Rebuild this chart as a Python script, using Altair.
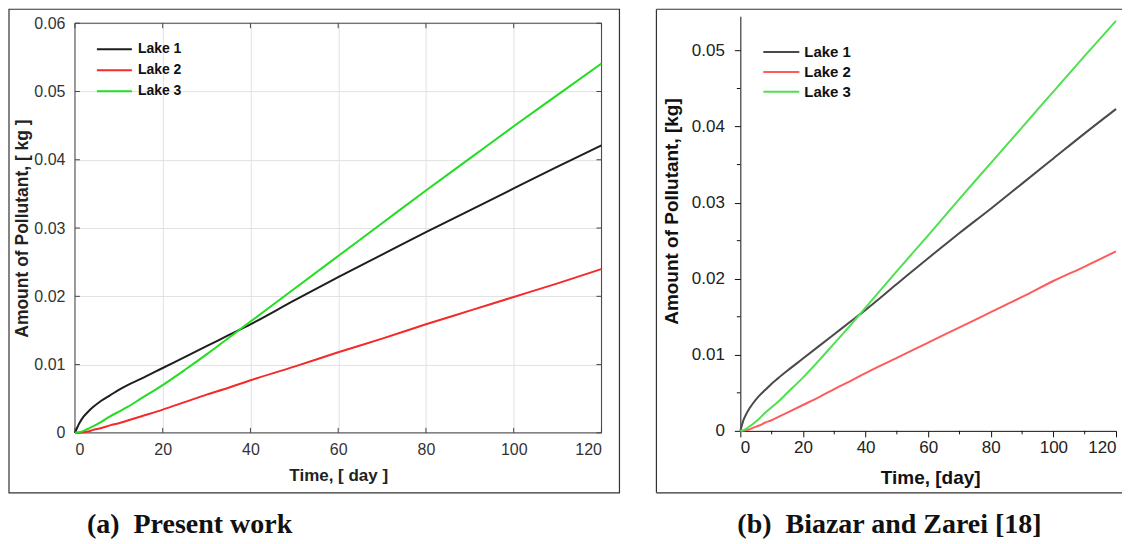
import altair as alt
import pandas as pd

# ---------------- data ----------------
days = [0, 1, 2, 3, 4, 6, 8, 10, 12, 15, 20, 25, 30, 35, 40, 50, 60, 70, 80, 90, 100, 110, 120]
lakes = ["Lake 1", "Lake 2", "Lake 3"]

# (a) Present work
a_lake1 = [0, 0.0014, 0.0024, 0.0031, 0.0037, 0.0047, 0.0055, 0.0063, 0.0070, 0.0079, 0.0095,
           0.0111, 0.0127, 0.0143, 0.0159, 0.0194, 0.0228, 0.0261, 0.0294, 0.0326, 0.0358, 0.0390, 0.0421]
a_lake2 = [0, 0.00003, 0.0001, 0.0002, 0.0004, 0.0007, 0.0011, 0.0014, 0.0018, 0.0024, 0.0034,
           0.0045, 0.0056, 0.0066, 0.0077, 0.0097, 0.0118, 0.0138, 0.0159, 0.0179, 0.0199, 0.0219, 0.0240]
a_lake3 = [0, 0.0001, 0.0003, 0.0006, 0.0009, 0.0016, 0.0024, 0.0031, 0.0038, 0.0050, 0.0070,
           0.0092, 0.0115, 0.0139, 0.0163, 0.0211, 0.0259, 0.0307, 0.0355, 0.0402, 0.0449, 0.0495, 0.0541]

# (b) Biazar and Zarei [18]
b_lake1 = [0, 0.0014, 0.0023, 0.0030, 0.0036, 0.0046, 0.0054, 0.0062, 0.0069, 0.0079, 0.0095,
           0.0111, 0.0127, 0.0143, 0.0159, 0.0193, 0.0227, 0.0260, 0.0292, 0.0325, 0.0358, 0.0391, 0.0423]
b_lake2 = [0, 0.00003, 0.0001, 0.0002, 0.0004, 0.0007, 0.0011, 0.0014, 0.0018, 0.0024, 0.0034,
           0.0044, 0.0055, 0.0065, 0.0076, 0.0096, 0.0116, 0.0136, 0.0156, 0.0176, 0.0197, 0.0216, 0.0236]
b_lake3 = [0, 0.0001, 0.0003, 0.0006, 0.0009, 0.0016, 0.0024, 0.0031, 0.0038, 0.0050, 0.0070,
           0.0092, 0.0115, 0.0138, 0.0162, 0.0210, 0.0257, 0.0305, 0.0352, 0.0399, 0.0446, 0.0493, 0.0539]

x_ticks = [0, 20, 40, 60, 80, 100, 120]
x_minor = [10, 30, 50, 70, 90, 110]
a_y_ticks = [0, 0.01, 0.02, 0.03, 0.04, 0.05, 0.06]
b_y_ticks = [0, 0.01, 0.02, 0.03, 0.04, 0.05]
b_y_minor = [0.005, 0.015, 0.025, 0.035, 0.045]
captions = ["(a)\u00a0\u00a0Present work", "(b)\u00a0\u00a0Biazar and Zarei [18]"]

a_colors = ["#1e1e1e", "#f42a2a", "#22dd22"]
b_colors = ["#4a4a4a", "#ff5b5b", "#4fe04f"]

SANS = "Liberation Sans"
SERIF = "Liberation Serif"


def long_frame(l1, l2, l3):
    rows = []
    for name, vals in zip(lakes, [l1, l2, l3]):
        for d, v in zip(days, vals):
            rows.append({"day": d, "amount": v, "lake": name})
    return pd.DataFrame(rows)


one = pd.DataFrame({"k": [0]})

# ---------------- panel (a) ----------------
WA, HA = 527, 410
xs_a = alt.Scale(domain=[0, 120], nice=False)
ys_a = alt.Scale(domain=[0, 0.06], nice=False)

lines_a = alt.Chart(long_frame(a_lake1, a_lake2, a_lake3)).mark_line(
    strokeWidth=2, interpolate="monotone"
).encode(
    x=alt.X("day:Q", scale=xs_a, axis=alt.Axis(
        values=x_ticks, grid=True, gridColor="#e2e2e2", ticks=False, domain=False,
        labelFont=SANS, labelFontSize=16, labelColor="#333", labelPadding=9,
        title="Time, [ day ]", titleFont=SANS, titleFontSize=17, titleFontWeight="bold",
        titleColor="#222", titleBaseline="middle", titleX=WA / 2, titleY=43)),
    y=alt.Y("amount:Q", scale=ys_a, axis=alt.Axis(
        values=a_y_ticks, format="~g", grid=True, gridColor="#e2e2e2", ticks=False, domain=False,
        labelFont=SANS, labelFontSize=16, labelColor="#333", labelPadding=10,
        title="Amount of Pollutant, [ kg ]", titleFont=SANS, titleFontSize=17.5, titleFontWeight="bold",
        titleColor="#222", titleBaseline="middle", titleX=-52, titleY=HA / 2)),
    color=alt.Color("lake:N", scale=alt.Scale(domain=lakes, range=a_colors), legend=alt.Legend(
        title=None, orient="none", legendX=21, legendY=16.5, symbolType="stroke", symbolSize=1225,
        symbolStrokeWidth=2, clipHeight=19, rowPadding=2, labelFont=SANS, labelFontSize=14,
        labelFontWeight="bold", labelColor="#111", labelOffset=5, padding=0)),
)

xt_a = alt.Chart(pd.DataFrame({"day": x_ticks}))
yt_a = alt.Chart(pd.DataFrame({"amount": a_y_ticks}))
ticks_a = [
    xt_a.mark_rule(color="#444").encode(x="day:Q", y=alt.value(HA), y2=alt.value(HA - 5)),
    xt_a.mark_rule(color="#444").encode(x="day:Q", y=alt.value(0), y2=alt.value(5)),
    yt_a.mark_rule(color="#444").encode(y="amount:Q", x=alt.value(0), x2=alt.value(5)),
    yt_a.mark_rule(color="#444").encode(y="amount:Q", x=alt.value(WA - 5), x2=alt.value(WA)),
]
frame_a = alt.Chart(one).mark_rect(filled=False, stroke="#444", strokeWidth=1).encode(
    x=alt.value(0), x2=alt.value(WA), y=alt.value(0), y2=alt.value(HA))
box_a = alt.Chart(one).mark_rect(filled=False, stroke="#333", strokeWidth=1.2).encode(
    x=alt.value(-66), x2=alt.value(545), y=alt.value(-14), y2=alt.value(470))
cap_a = alt.Chart(pd.DataFrame({"cap": [captions[0]]})).mark_text(
    align="left", baseline="middle", font=SERIF, fontSize=28, fontWeight="bold", color="#111"
).encode(x=alt.value(12), y=alt.value(502), text="cap:N")

panel_a = alt.layer(frame_a, *ticks_a, lines_a, box_a, cap_a).properties(width=WA, height=HA)

# ---------------- panel (b) ----------------
# the plot origin is shared with panel (a); its axis starts 7px higher
WB, HB = 376, 408
xs_b = alt.Scale(domain=[0, 120], nice=False)
ys_b = alt.Scale(domain=[0, 0.0545], nice=False, range=[HB, -7])

lines_b = alt.Chart(long_frame(b_lake1, b_lake2, b_lake3)).mark_line(
    strokeWidth=2, interpolate="monotone"
).encode(
    x=alt.X("day:Q", scale=xs_b, axis=alt.Axis(
        values=x_ticks, grid=False, ticks=True, tickSize=6, tickColor="#111", domain=True,
        domainColor="#111", labelFont=SANS, labelFontSize=17, labelColor="#222", labelPadding=3,
        title="Time, [day]", titleFont=SANS, titleFontSize=19, titleFontWeight="bold",
        titleColor="#111", titleBaseline="middle", titleX=190, titleY=47)),
    y=alt.Y("amount:Q", scale=ys_b, axis=alt.Axis(
        values=b_y_ticks, format="~g", grid=False, ticks=True, tickSize=6, tickColor="#111",
        domain=True, domainColor="#111", labelFont=SANS, labelFontSize=17, labelColor="#222",
        labelPadding=10, title="Amount of Pollutant, [kg]", titleFont=SANS, titleFontSize=19,
        titleFontWeight="bold", titleColor="#111", titleBaseline="middle", titleX=-69, titleY=188)),
    color=alt.Color("lake:N", scale=alt.Scale(domain=lakes, range=b_colors), legend=alt.Legend(
        title=None, orient="none", legendX=22, legendY=19.7, symbolType="stroke", symbolSize=1296,
        symbolStrokeWidth=2, clipHeight=18, rowPadding=2, labelFont=SANS, labelFontSize=15,
        labelFontWeight="bold", labelColor="#111", labelOffset=4, padding=0)),
)

mx_b = alt.Chart(pd.DataFrame({"day": x_minor}))
my_b = alt.Chart(pd.DataFrame({"amount": b_y_minor}))
minor_b = [
    mx_b.mark_rule(color="#111").encode(x="day:Q", y=alt.value(HB), y2=alt.value(HB + 3.5)),
    my_b.mark_rule(color="#111").encode(y="amount:Q", x=alt.value(0), x2=alt.value(-3.5)),
]
box_b = [
    alt.Chart(one).mark_rule(color="#333", strokeWidth=1.2).encode(
        x=alt.value(-84), x2=alt.value(382), y=alt.value(-14)),
    alt.Chart(one).mark_rule(color="#333", strokeWidth=1.2).encode(
        x=alt.value(-84), y=alt.value(-14), y2=alt.value(470)),
    alt.Chart(one).mark_rule(color="#333", strokeWidth=1.2).encode(
        x=alt.value(-84), x2=alt.value(382), y=alt.value(470)),
]
cap_b = alt.Chart(pd.DataFrame({"cap": [captions[1]]})).mark_text(
    align="left", baseline="middle", font=SERIF, fontSize=28, fontWeight="bold", color="#111"
).encode(x=alt.value(-3), y=alt.value(502), text="cap:N")

panel_b = alt.layer(*minor_b, lines_b, *box_b, cap_b).properties(width=WB, height=HB)

chart = alt.hconcat(panel_a, panel_b, spacing=35).resolve_scale(
    x="independent", y="independent", color="independent"
).resolve_legend(color="independent").properties(
    padding=0, background="white"
).configure_view(strokeWidth=0)

chart.save("out.html", embed_options={"renderer": "svg", "actions": False})
